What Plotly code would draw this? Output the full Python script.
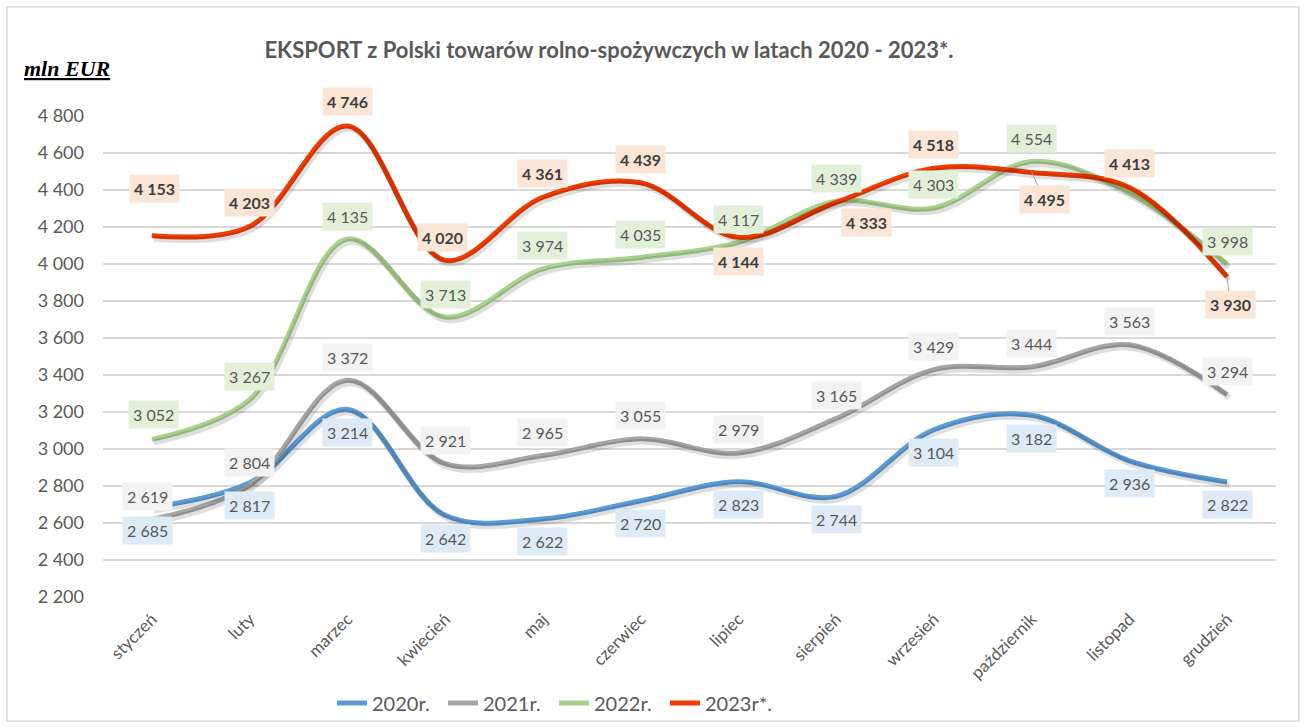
import plotly.graph_objects as go

months = ["styczeń", "luty", "marzec", "kwiecień", "maj", "czerwiec", "lipiec",
          "sierpień", "wrzesień", "październik", "listopad", "grudzień"]
y2020 = [2685, 2817, 3214, 2642, 2622, 2720, 2823, 2744, 3104, 3182, 2936, 2822]
y2021 = [2619, 2804, 3372, 2921, 2965, 3055, 2979, 3165, 3429, 3444, 3563, 3294]
y2022 = [3052, 3267, 4135, 3713, 3974, 4035, 4117, 4339, 4303, 4554, 4384, 3998]
y2023 = [4153, 4203, 4746, 4020, 4361, 4439, 4144, 4333, 4518, 4495, 4413, 3930]
series_names = ["2020r.", "2021r.", "2022r.", "2023r*."]
y_ticks = [2200, 2400, 2600, 2800, 3000, 3200, 3400, 3600, 3800, 4000, 4200, 4400, 4600, 4800]

# styles
FONT = "Lato, Open Sans, sans-serif"
line_colors = ["#5B9BD5", "#A5A5A5", "#A9D18E", "#F03C00"]
label_bg = ["#DEEBF7", "#F2F2F2", "#E2F0D9", "#FBE5D6"]
# label offsets (pixels: dx right, dy up)
off2020 = [(-4, -23)] + [(0, -23)] * 11
off2021 = [(-4, 23)] + [(0, 23)] * 11
off2022 = [(2, 25)] + [(0, 23)] * 11
off2023 = [(3, 47), (0, 24), (0, 24), (-3, 23), (0, 24), (0, 23), (0, -24),
           (30, -20), (0, 24), (13, -27), (0, 24), (3, -28)]
leader = [[False] * 12, [False] * 12, [False] * 12,
          [False] * 9 + [True, False, True]]
hidden = [[False] * 12, [False] * 12, [False] * 10 + [True, False], [False] * 12]

W, H = 1304, 728
L, R, T, B = 103, 28, 116, 131
pw, ph = W - L - R, H - T - B

def fmt(v):
    return f"{v:,}".replace(",", " ")

all_series = [y2020, y2021, y2022, y2023]
offsets = [off2020, off2021, off2022, off2023]

fig = go.Figure()
xs = list(range(len(months)))

# soft shadow traces on a shifted overlay axis
for ys in all_series:
    fig.add_trace(go.Scatter(x=xs, y=ys, mode="lines", xaxis="x2", yaxis="y2",
                             line=dict(color="rgba(0,0,0,0.13)", width=6, shape="spline", smoothing=1),
                             showlegend=False, hoverinfo="skip"))

for name, ys, c in zip(series_names, all_series, line_colors):
    fig.add_trace(go.Scatter(x=xs, y=ys, mode="lines", name=name,
                             line=dict(color=c, width=5, shape="spline", smoothing=1)))

ann = []
for si, (ys, offs) in enumerate(zip(all_series, offsets)):
    for i, v in enumerate(ys):
        if hidden[si][i]:
            continue
        dx, dy = offs[i]
        bold = si == 3
        txt = f"<b>{fmt(v)}</b>" if bold else fmt(v)
        ann.append(dict(
            x=i, y=v, xref="x", yref="y", text=txt,
            showarrow=True, ax=dx, ay=-dy, axref="pixel", ayref="pixel",
            arrowhead=0, arrowwidth=1,
            arrowcolor="#A6A6A6" if leader[si][i] else "rgba(0,0,0,0)",
            standoff=0,
            bgcolor=label_bg[si], borderpad=4,
            font=dict(family=FONT, size=16,
                      color="#404040" if bold else "#595959"),
        ))

ann.append(dict(x=(22 - L) / pw, y=1 + (T - 68) / ph, xref="paper", yref="paper",
                text="<b><i><u>mln EUR</u></i></b>", showarrow=False,
                xanchor="left", yanchor="middle",
                font=dict(family="Liberation Serif, serif", size=22, color="#000000")))

fig.update_layout(
    width=W, height=H,
    margin=dict(l=L, r=R, t=T, b=B, autoexpand=False),
    paper_bgcolor="white", plot_bgcolor="white",
    title=dict(text="<b>EKSPORT z Polski towarów rolno-spożywczych w latach 2020 - 2023*.</b>",
               x=609 / W, xanchor="center", xref="container",
               y=1 - 50 / H, yanchor="middle", yref="container",
               font=dict(family=FONT, size=22, color="#595959")),
    xaxis=dict(range=[-0.5, 11.5], tickmode="array", tickvals=xs, ticktext=months,
               tickangle=-45, showgrid=False, zeroline=False, showline=False,
               ticks="", ticklabelstandoff=8,
               tickfont=dict(family=FONT, size=17, color="#595959")),
    yaxis=dict(range=[2200, 4800], tickmode="array", tickvals=y_ticks,
               ticktext=[fmt(v) for v in y_ticks],
               showgrid=True, gridcolor="#D9D9D9", gridwidth=1.5, zeroline=False,
               showline=False, ticks="", ticklabelstandoff=18,
               tickfont=dict(family=FONT, size=18, color="#595959")),
    xaxis2=dict(range=[-0.5 - 2 / (pw / 12), 11.5 - 2 / (pw / 12)], overlaying="x",
                visible=False),
    yaxis2=dict(range=[2200 + 3 * 2600 / ph, 4800 + 3 * 2600 / ph], overlaying="y",
                visible=False),
    legend=dict(orientation="h", x=(332 - L) / pw, xanchor="left",
                y=(ph - (703 - T)) / ph, yanchor="middle",
                font=dict(family=FONT, size=20, color="#595959"),
                itemwidth=30, entrywidth=66, entrywidthmode="pixels",
                bgcolor="rgba(0,0,0,0)"),
    annotations=ann,
    shapes=[dict(type="rect", xref="paper", yref="paper",
                 x0=(7 - L) / pw, x1=(1299 - L) / pw,
                 y0=1 + (T - 721) / ph, y1=1 + (T - 7) / ph,
                 line=dict(color="#D9D9D9", width=1.5), fillcolor="rgba(0,0,0,0)",
                 layer="below")],
    showlegend=True,
)

fig.write_html("out.html", config={"displayModeBar": False},
               post_script="document.body.style.margin='0';document.body.style.overflow='hidden';window.dispatchEvent(new Event('resize'));")
